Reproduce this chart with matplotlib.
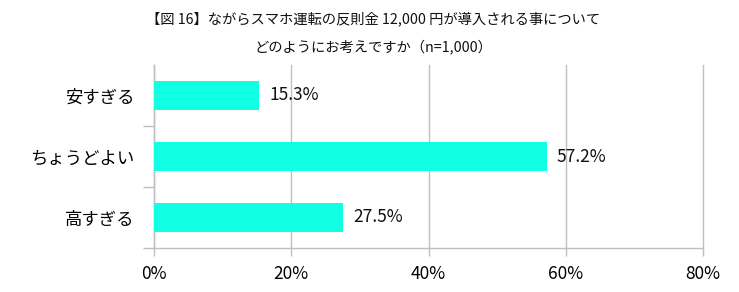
import matplotlib
matplotlib.use("Agg")
import matplotlib.pyplot as plt
from matplotlib.ticker import FuncFormatter, FixedLocator

plt.rcParams['font.family'] = ['Noto Sans CJK JP', 'DejaVu Sans']

categories = ["安すぎる", "ちょうどよい", "高すぎる"]
values = [15.3, 57.2, 27.5]
xticks = [0, 20, 40, 60, 80]
title = "【図 16】ながらスマホ運転の反則金 12,000 円が導入される事について\nどのようにお考えですか（n=1,000）"

fig = plt.figure(figsize=(7.39, 2.92), dpi=100)
ax = fig.add_axes([154/739, 1-248/292, (703-154)/739, (248-65)/292])

ypos = list(range(len(categories)))
ax.barh(ypos, values, height=0.48, color='#11FFE3', zorder=3)
for y, v in zip(ypos, values):
    ax.text(v + 1.5, y, f"{v:.1f}%", va='center', ha='left', fontsize=12.5, color='#111111')

ax.set_xlim(0, 80)
ax.set_ylim(2.5, -0.5)
ax.set_yticks(ypos)
ax.set_yticklabels(categories, fontsize=12.5)
ax.yaxis.set_minor_locator(FixedLocator([0.5, 1.5, 2.5]))
ax.tick_params(axis='y', which='major', length=0, pad=14)
ax.tick_params(axis='y', which='minor', length=8, color='#BFBFBF', width=1)
ax.set_xticks(xticks)
ax.xaxis.set_major_formatter(FuncFormatter(lambda x, p: f"{x:.0f}%"))
ax.tick_params(axis='x', length=6, color='#BFBFBF', width=1, labelsize=12.5, pad=6)
ax.grid(axis='x', color='#BFBFBF', linewidth=1, zorder=0)
for gl in ax.get_xgridlines():
    gl.set_clip_on(False)
for s in ['top', 'right']:
    ax.spines[s].set_visible(False)
for s in ['left', 'bottom']:
    ax.spines[s].set_color('#BFBFBF')
    ax.spines[s].set_linewidth(1)

fig.text(0.505, 1 - 33/292, title, ha='center', va='center', fontsize=10.3, linespacing=2.1, color='#111111')

fig.savefig("out.png", dpi=100)
